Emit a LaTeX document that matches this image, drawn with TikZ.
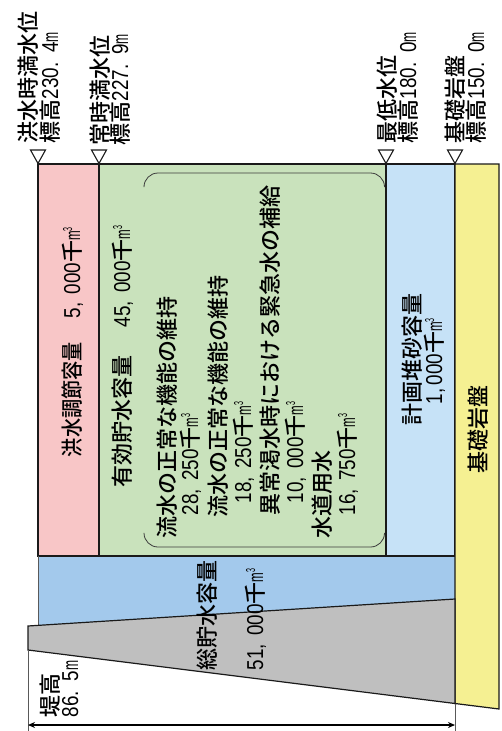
\documentclass[tikz,border=0pt]{standalone}
\usepackage{fontspec}
\usetikzlibrary{arrows.meta}
\newfontfamily\jpfam{Noto Sans CJK JP Medium}
\newfontfamily\latfam[FakeStretch=0.82,WordSpace=1.5]{Liberation Sans}
\newfontfamily\unitfam[FakeStretch=0.55]{Liberation Sans}
\newcommand{\J}[1]{{\jpfam\fontsize{22}{24}\selectfont #1}}
\newcommand{\N}[1]{{\latfam\fontsize{23}{24}\selectfont #1}}
\newcommand{\M}{{\unitfam\fontsize{22}{24}\selectfont m}}
\newcommand{\KM}{\J{千}{\unitfam\fontsize{21}{24}\selectfont m\raisebox{8pt}{\fontsize{13}{13}\selectfont 3}}}
\definecolor{pinkc}{HTML}{F8C6C7}
\definecolor{greenc}{HTML}{C9E2BC}
\definecolor{skyc}{HTML}{C6E2F7}
\definecolor{bluec}{HTML}{A3C9EC}
\definecolor{grayc}{HTML}{BFBFBF}
\definecolor{yellowc}{HTML}{F5F092}
\definecolor{linec}{HTML}{1A1A1A}
\tikzset{
  x=1pt,y=-1pt,
  zone/.style={draw=linec,line width=1.2pt,line join=miter},
  mark tri/.style={draw=linec,fill=white,line width=1.1pt,line join=miter},
  lab/.style={rotate=90,anchor=base west,inner sep=0pt,outer sep=0pt},
  brack/.style={draw=linec!85,line width=0.8pt,rounded corners=14pt},
  ext/.style={draw=gray!70!black,line width=0.9pt},
  dim/.style={draw=black,line width=1.2pt,{Stealth[length=7pt,width=6pt]}-{Stealth[length=7pt,width=6pt]}}
}
\newcommand{\tri}[1]{\draw[mark tri] (#1-7.5,150)--(#1+7.5,150)--(#1,163.5)--cycle;}
\begin{document}
\begin{tikzpicture}
\useasboundingbox (0,0) rectangle (501,731);
% zones
\fill[bluec] (38,556) rectangle (455,625);
\draw[zone,fill=pinkc] (38,164) rectangle (99,556);
\draw[zone,fill=greenc] (99,164) rectangle (386,556);
\draw[zone,fill=skyc] (386,164) rectangle (455,556);
\draw[zone,fill=yellowc] (455,164) -- (499,164) -- (499,709) -- (455,703.5) -- cycle;
\draw[ext] (38,556) -- (38,626);
\draw[zone,fill=grayc] (28,626) -- (455,599) -- (455,703.5) -- (28,650) -- cycle;
% bracket
\draw[brack] (144,185) -- (144,173) -- (384.5,173) -- (384.5,185);
\draw[brack] (144,534) -- (144,547) -- (384.5,547) -- (384.5,534);
% markers
\tri{38}\tri{99}\tri{386}\tri{455}
% dimension
\coordinate (dl) at (28,725);
\coordinate (dr) at (455,725);
\draw[ext] (28,650) -- (28,731);
\draw[ext] (455,703.5) -- (455,731);
\draw[dim] (dl) -- (dr);
% top labels
\node[lab] (t1) at (36,143) {\J{洪水時満水位}};
\node[lab] (t2) at (58,143) {\J{標高}\N{230. 4}\M};
\node[lab] (t3) at (108,145) {\J{常時満水位}};
\node[lab] (t4) at (128,145) {\J{標高}\N{227. 9}\M};
\node[lab] (t5) at (395,143) {\J{最低水位}};
\node[lab] (t6) at (416,143) {\J{標高}\N{180. 0}\M};
\node[lab] (t7) at (463,143) {\J{基礎岩盤}};
\node[lab] (t8) at (484,143) {\J{標高}\N{150. 0}\M};
% zone labels
\node[lab] (a1) at (80,457) {\scalebox{0.87}[1]{\J{洪水調節容量}}};
\node[lab] (a1n) at (80,318) {\N{5, 000}\KM};
\node[lab] (a2) at (130,487) {\J{有効貯水容量}};
\node[lab] (a2n) at (130,327) {\N{45, 000}\KM};
\node[lab] (b1) at (175,538) {\J{流水の正常な機能の維持}};
\node[lab] (b2) at (198,515) {\N{28, 250}\KM};
\node[lab] (b3) at (226,517) {\J{流水の正常な機能の維持}};
\node[lab] (b4) at (251,503) {\N{18, 250}\KM};
\node[lab] (b5) at (278,515) {\J{異常渇水時における緊急水の補給}};
\node[lab] (b6) at (303,503) {\N{10, 000}\KM};
\node[lab] (b7) at (330,538) {\J{水道用水}};
\node[lab] (b8) at (355,515) {\N{16, 750}\KM};
\node[lab] (c1) at (420,425) {\J{計画堆砂容量}};
\node[lab] (c2) at (442,404) {\N{1,\hspace{3pt}000}\KM};
\node[lab] (d1) at (486,473) {\J{基礎岩盤}};
\node[lab] (e1) at (215,670) {\J{総貯水容量}};
\node[lab] (e2) at (263,670) {\N{51, 000}\KM};
\node[lab] (f1) at (58,717) {\J{堤高}};
\node[lab] (f2) at (78,717) {\N{86. 5}\M};
\end{tikzpicture}
\end{document}
